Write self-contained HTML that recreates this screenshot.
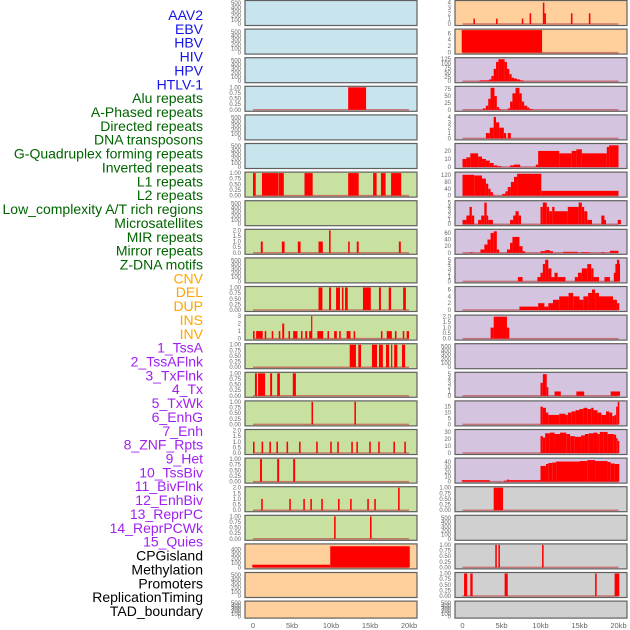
<!DOCTYPE html>
<html><head><meta charset="utf-8"><style>
body{margin:0;background:#fff;}
svg{display:block;font-family:"Liberation Sans",sans-serif;}
</style></head><body>
<svg id="c" width="630" height="630"></svg>
<script>
const labels=["AAV2","EBV","HBV","HIV","HPV","HTLV-1","Alu repeats","A-Phased repeats","Directed repeats","DNA transposons","G-Quadruplex forming repeats","Inverted repeats","L1 repeats","L2 repeats","Low_complexity A/T rich regions","Microsatellites","MIR repeats","Mirror repeats","Z-DNA motifs","CNV","DEL","DUP","INS","INV","1_TssA","2_TssAFlnk","3_TxFlnk","4_Tx","5_TxWk","6_EnhG","7_Enh","8_ZNF_Rpts","9_Het","10_TssBiv","11_BivFlnk","12_EnhBiv","13_ReprPC","14_ReprPCWk","15_Quies","CPGisland","Methylation","Promoters","ReplicationTiming","TAD_boundary"];
const labelColors=["#1414e6","#1414e6","#1414e6","#1414e6","#1414e6","#1414e6","#006400","#006400","#006400","#006400","#006400","#006400","#006400","#006400","#006400","#006400","#006400","#006400","#006400","#ffa500","#ffa500","#ffa500","#ffa500","#ffa500","#a020f0","#a020f0","#a020f0","#a020f0","#a020f0","#a020f0","#a020f0","#a020f0","#a020f0","#a020f0","#a020f0","#a020f0","#a020f0","#a020f0","#a020f0","#000","#000","#000","#000","#000"];
const xTicks=[0,5,10,15,20];
const xTickLabels=["0","5kb","10kb","15kb","20kb"];
const T500=["0","100","200","300","400","500"];
const T1=["0.00","0.25","0.50","0.75","1.00"];
const leftBg=["#c8e4ec","#c8e4ec","#c8e4ec","#c8e4ec","#c8e4ec","#c8e4ec","#c8e0a0","#c8e0a0","#c8e0a0","#c8e0a0","#c8e0a0","#c8e0a0","#c8e0a0","#c8e0a0","#c8e0a0","#c8e0a0","#c8e0a0","#c8e0a0","#c8e0a0","#ffd09c","#ffd09c","#ffd09c"];
const rightBg=["#ffd09c","#ffd09c","#d4c4e0","#d4c4e0","#d4c4e0","#d4c4e0","#d4c4e0","#d4c4e0","#d4c4e0","#d4c4e0","#d4c4e0","#d4c4e0","#d4c4e0","#d4c4e0","#d4c4e0","#d4c4e0","#d4c4e0","#d0d0d0","#d0d0d0","#d0d0d0","#d0d0d0","#d0d0d0"];
const leftYmax=[540,540,540,1,540,540,1,540,2,540,1,3,1,1,1,2,1,2,1,500,540,540];
const rightYmax=[4.2,7,128,82,4.2,28,132,5.2,68,5.2,6.6,2.05,540,5.2,19,32,46,1,540,1,1,540];
const leftTicks=[T500,T500,T500,T1,T500,T500,T1,T500,["0.0","0.5","1.0","1.5","2.0"],T500,T1,["0","1","2","3"],T1,T1,T1,["0.0","0.5","1.0","1.5","2.0"],T1,["0.0","0.5","1.0","1.5","2.0"],T1,["0","100","200","300","400"],T500,T500];
const rightTicks=[["0","1","2","3","4"],["0","2","4","6"],["0","25","50","75","100","125"],["0","25","50","75"],["0","1","2","3","4"],["0","10","20"],["0","40","80","120"],["0","1","2","3","4","5"],["0","20","40","60"],["0","1","2","3","4","5"],["0","2","4","6"],["0.0","0.5","1.0","1.5","2.0"],T500,["0","1","2","3","4","5"],["0","5","10","15"],["0","10","20","30"],["0","10","20","30","40"],T1,T500,T1,T1,T500];
const leftSegs=[[],[],[],[[12.2,14.5,1]],[],[],
[[0,0.35,1],[1.15,3.25,1],[3.3,3.95,1],[6.6,7.65,1],[12.2,13.55,1],[15.4,15.85,1],[16.4,17,1],[17.7,19,1]],
[],
[[1.0,1.25,1],[3.7,4.05,1],[5.75,6.1,1],[8.4,8.95,1],[9.75,9.95,2],[12.2,12.4,1],[13.3,13.55,1],[18.7,18.95,1]],
[],
[[8.4,8.9,1],[9.75,10,1],[10.65,11.15,1],[11.4,11.6,1],[11.8,12.15,1],[14.1,15.1,1],[16.15,16.4,1],[17.4,17.7,1],[19.25,19.6,1]],
[[0,0.2,1],[0.4,1.25,1],[1.5,1.7,1],[2.4,2.6,1],[3.3,3.5,1],[3.75,4.0,2],[4.55,4.75,1],[5.15,5.7,1],[6.15,6.35,1],[6.7,6.95,1],[7.2,7.55,1],[7.45,7.6,3],[8.25,9.0,1],[9.55,9.75,1],[10.4,10.75,1],[11.05,11.25,1],[12,12.5,1],[12.9,13.1,1],[16.4,16.6,1],[17.15,17.8,1],[18.2,18.4,1],[19.2,19.4,1],[19.7,20,1]],
[[12.4,13.2,1],[13.5,13.85,1],[15.25,15.9,1],[16.15,16.65,1],[17.05,17.45,1],[17.7,17.85,1],[18.1,18.5,1],[19.1,19.5,1]],
[[0.25,0.5,1],[0.65,1.55,1],[2.2,2.45,1],[3.1,3.45,1],[5.1,5.5,1]],
[[7.5,7.7,1],[13.0,13.2,1]],
[[0,0.2,1],[1.1,1.3,1],[2.1,2.3,1],[3.0,3.2,1],[4.3,4.5,1],[5.9,6.1,1],[8.1,8.3,1],[9.9,10.1,1],[10.8,11.0,1],[12.6,12.8,1],[13.25,13.45,1],[14.9,15.1,1],[16.05,16.25,1],[18.0,18.2,1],[19.4,19.6,1]],
[[0.9,1.15,1],[3.1,3.35,1],[5.15,5.4,1]],
[[1.05,1.25,1],[4.65,4.85,1],[6.45,6.65,1],[7.35,7.55,1],[8.75,8.95,1],[10.9,11.1,1],[12.45,12.65,1],[14.65,14.85,1],[15.55,15.75,1],[18.6,18.8,2]],
[[10.4,10.6,1],[15.0,15.2,1]],
[[-0.1,9.9,60],[9.9,20.1,470]],
[],[]];
const rightSegs=[
[[1.4,1.6,1],[4.3,4.5,1],[7.6,7.8,1],[8.6,8.8,2],[10.3,10.5,4],[10.5,10.7,2],[13.9,14.1,2],[16.2,16.4,2]],
[[-0.1,10.2,7]],
[[2.2,3.4,5],[3.4,3.7,10],[3.7,4,30],[4,4.3,70],[4.3,4.6,110],[4.6,5.4,125],[5.4,5.7,110],[5.7,6,70],[6,6.3,40],[6.3,6.6,20],[6.6,7,15],[7,7.4,10],[7.4,7.8,5]],
[[2.6,3,5],[3,3.3,15],[3.3,3.6,40],[3.6,4.1,80],[4.1,4.4,50],[4.4,4.7,10],[4.7,4.9,3],[5.8,6.1,5],[6.1,6.4,30],[6.4,6.8,60],[6.8,7.3,80],[7.3,7.6,60],[7.6,7.9,30],[7.9,8.3,15],[8.3,8.6,8],[8.6,9,3]],
[[3,3.5,1],[3.5,4,2],[4,4.3,4],[4.3,4.7,3],[4.7,5.3,2],[5.3,5.6,1],[5.8,6.2,1]],
[[0,0.5,10],[0.5,1,12],[1,2,17],[2,2.5,13],[2.5,3,10],[3,3.5,8],[3.5,4,5],[4,4.5,2],[4.5,5,1],[6.1,6.6,2],[6.6,7.4,3],[9.4,9.7,3],[9.7,12.4,20],[12.4,14,17],[14,14.6,20],[14.6,15.3,22],[15.3,18.5,17],[18.5,18.8,25],[18.8,20,27]],
[[0,1.5,122],[1.5,2.5,118],[2.5,3,100],[3,3.3,70],[3.3,3.6,40],[3.6,3.9,20],[3.9,4.1,5],[5.1,5.5,10],[5.5,5.8,25],[5.8,6.2,50],[6.2,6.6,80],[6.6,7,110],[7,10.1,128],[10.1,20,28]],
[[0,0.5,1],[0.5,0.9,2],[0.9,1.2,4],[1.2,1.5,2],[2,2.4,1],[2.4,2.8,2],[2.8,3.1,5],[3.1,3.3,2],[3.3,3.9,1],[6.1,6.5,1],[6.5,6.8,2],[6.8,7.2,3],[7.2,7.5,2],[10,10.3,4],[10.3,10.8,5],[10.8,11.1,4],[11.1,11.5,3],[11.5,11.8,4],[11.8,13.5,3],[13.5,14.9,4],[14.9,15.3,5],[15.3,15.6,4],[15.6,16,3],[16,16.6,1],[17.8,18.2,2],[18.2,18.4,1],[19.9,20.3,1]],
[[1,1.3,2],[2.3,2.8,10],[2.8,3.2,25],[3.2,3.6,40],[3.6,4.0,60],[4.0,4.4,65],[4.4,4.7,10],[5.7,6.1,10],[6.1,6.4,30],[6.4,7.3,48],[7.3,7.7,20],[7.7,8,5],[10,10.6,5],[10.6,11.2,8],[11.2,11.6,5],[12.9,14.8,3],[15.2,16.3,2],[17.8,18.2,2],[18.9,20,6]],
[[7.1,7.7,1],[9.6,10,1],[10,10.3,2],[10.3,10.6,4],[10.6,11,5],[11,11.4,3],[11.4,11.8,1],[11.8,12.2,2],[12.2,13.2,1],[14.4,14.8,1],[14.8,15.3,2],[15.3,16,3],[16,16.5,4],[16.5,16.8,3],[16.8,17.5,1],[18.2,18.9,1],[19.4,19.7,2],[19.7,20,3],[20,20.2,4],[19.6,20,4],[19.8,20.1,5]],
[[7.3,9.7,1],[9.7,10.5,2],[10.5,11,1],[11,11.6,2],[11.6,12.4,3],[12.4,13.6,4],[13.6,14.2,5],[14.2,15,4],[15,15.5,3],[15.5,16.1,4],[16.1,16.6,5],[16.6,17,6],[17,17.5,5],[17.5,19.3,4],[19.3,19.8,3],[19.8,20.1,2]],
[[3.6,4.0,1],[4.0,5.7,2],[5.7,6.0,1]],
[],
[[10,10.3,3],[10.3,10.8,5],[10.8,11,2],[11.8,12.6,1],[14.6,15.6,1],[19,20.2,1]],
[[10,10.3,15],[10.3,10.7,14],[10.7,11,10],[11,12.4,8],[12.4,13.2,9],[13.2,13.5,8],[13.5,14,10],[14,14.5,11],[14.5,15,12],[15,15.5,13],[15.5,16,14],[16,16.5,13],[16.5,16.8,14],[16.8,17.3,12],[17.3,17.8,10],[17.8,18.4,8],[18.4,18.8,11],[18.8,19.2,10],[19.2,19.5,7],[19.5,19.7,8],[19.7,19.9,15],[19.9,20.1,19]],
[[10,10.3,24],[10.3,10.6,22],[10.6,11.2,28],[11.2,11.8,29],[11.8,12.5,27],[12.5,13.3,29],[13.3,13.8,27],[13.8,14.4,24],[14.4,15.2,23],[15.2,15.7,25],[15.7,16.2,27],[16.2,16.8,28],[16.8,17.3,29],[17.3,17.6,27],[17.6,18.1,30],[18.1,18.6,30],[18.6,19.4,27],[19.4,19.7,26],[19.7,19.9,21],[19.9,20.1,17]],
[[-0.1,3.5,3],[5.3,5.7,2],[5.7,6,4],[6,10,3],[10,10.7,32],[10.7,11,36],[11,11.5,38],[11.5,12,39],[12,15,41],[15,16,42],[16,17,44],[17,18.6,42],[18.6,19,40],[19,19.5,37],[19.5,20.1,36]],
[[4,5.2,1]],
[],
[[4.2,4.4,1],[4.6,4.8,1],[10.2,10.4,1]],
[[0.2,0.6,1],[1,1.3,1],[5.4,5.8,1],[17,17.2,1],[19.5,20.1,1]],
[]];

const svg=document.getElementById('c');
const NS='http://www.w3.org/2000/svg';
function mk(t,a){const e=document.createElementNS(NS,t);for(const k in a)e.setAttribute(k,a[k]);return e;}

labels.forEach((l,i)=>{
  const t=mk('text',{x:203,y:15+i*13.86+5,'text-anchor':'end','font-size':'14',fill:labelColors[i]});
  
  
  t.textContent=l;svg.appendChild(t);
});

function panel(col,i){
  const px=col===0?245:455, x0=col===0?253:462.5, kb=7.8, w=172;
  const top=i*28.6+0.5, h=i===21?17:25;
  const bg=(col===0?leftBg:rightBg)[i], ymax=(col===0?leftYmax:rightYmax)[i];
  const ticks=(col===0?leftTicks:rightTicks)[i], segs=(col===0?leftSegs:rightSegs)[i];
  const yb=top+h-1.5, ys=(h-2.5)/ymax;
  const xs=v=>x0+v*kb, yv=v=>yb-v*ys;
  const g=mk('g',{});
  
  
  const r=mk('rect',{x:px,y:top,width:w,height:h,fill:bg});
  
  
  g.appendChild(r);
  if(segs.length){
    const bl=mk('line',{x1:xs(0),x2:xs(20),y1:yb,y2:yb,stroke:'#c05050','stroke-width':1.5,'stroke-opacity':0.7});
    
    
    g.appendChild(bl);
  }
  segs.forEach(s=>{
    const b=mk('rect',{x:xs(s[0]),y:yv(s[2]),width:Math.max(1.2,(s[1]-s[0])*kb),height:s[2]*ys,fill:'#ff0000'});
    
    
    g.appendChild(b);
  });
  const bd=mk('rect',{x:px,y:top,width:w,height:h,fill:'none',stroke:'#606060','stroke-width':1.2});
  
  
  g.appendChild(bd);
  ticks.forEach(tl=>{
    const v=parseFloat(tl);
    const t=mk('text',{x:px-4,y:yv(v)+2,'text-anchor':'end','font-size':'6',fill:'#666'});
    
    
    t.textContent=tl;g.appendChild(t);
  });
  svg.appendChild(g);
}
for(let i=0;i<22;i++){panel(0,i);panel(1,i);}
[253,462.5].forEach((x0,c)=>{
  xTicks.forEach((v,j)=>{
    const t=mk('text',{x:x0+v*7.8,y:628,'text-anchor':'middle','font-size':'7.5',fill:'#666'});
    
    
    t.textContent=xTickLabels[j];svg.appendChild(t);
  });
});
</script>
</body></html>
